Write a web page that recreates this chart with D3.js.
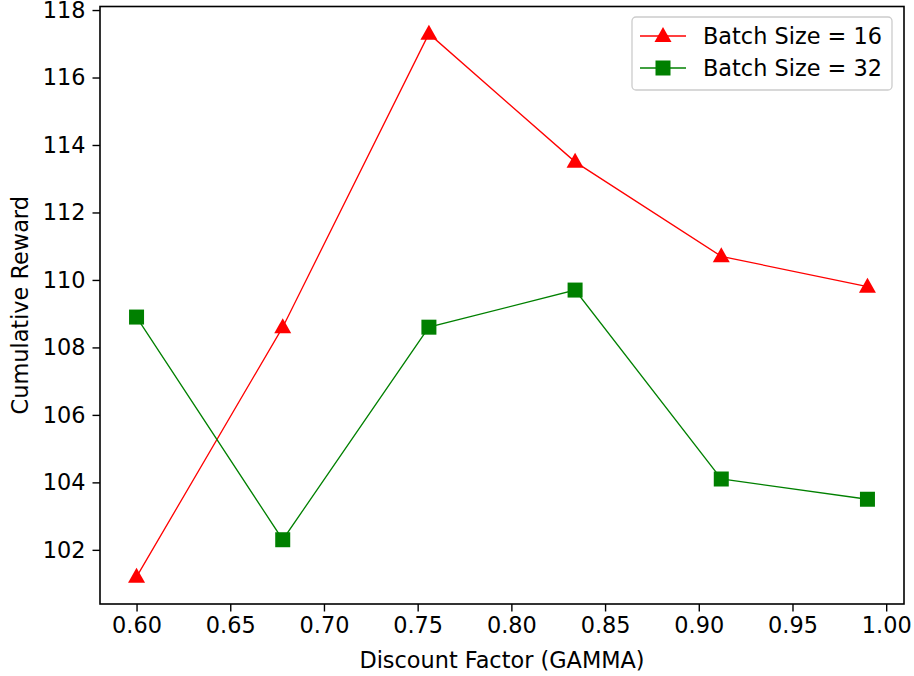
<!DOCTYPE html>
<html>
<head>
<meta charset="utf-8">
<script src="https://cdn.jsdelivr.net/npm/d3@7"></script>
<style>
  html, body { margin: 0; padding: 0; background: #fff; }
  svg { display: block; font-family: "DejaVu Sans", sans-serif; }
</style>
</head>
<body>
<svg id="chart" width="914" height="676"></svg>
<script>
const gammas = [0.6, 0.678, 0.756, 0.834, 0.912, 0.99];
const batch16 = [101.2, 108.6, 117.3, 113.5, 110.7, 109.8];
const batch32 = [108.9, 102.3, 108.6, 109.7, 104.1, 103.5];
const seriesNames = ["Batch Size = 16", "Batch Size = 32"];
const xTicks = [0.60, 0.65, 0.70, 0.75, 0.80, 0.85, 0.90, 0.95, 1.00];
const yTicks = [102, 104, 106, 108, 110, 112, 114, 116, 118];
const xLabel = "Discount Factor (GAMMA)";
const yLabel = "Cumulative Reward";

const svg = d3.select("#chart");
const L = 100, R = 904, T = 6.5, B = 604;
const fs = 22.4;

const x = d3.scaleLinear().domain([0.5805, 1.0095]).range([L, R]);
const y = d3.scaleLinear().domain([100.395, 118.105]).range([B, T]);

// axes
const xAxis = d3.axisBottom(x).tickValues(xTicks).tickFormat(d3.format(".2f")).tickSizeOuter(0).tickSize(7.5).tickPadding(6);
const yAxis = d3.axisLeft(y).tickValues(yTicks).tickFormat(d3.format("d")).tickSizeOuter(0).tickSize(7.5).tickPadding(7);

const gx = svg.append("g").attr("transform", `translate(0,${B})`).call(xAxis);
const gy = svg.append("g").attr("transform", `translate(${L},0)`).call(yAxis);
[gx, gy].forEach(g => {
  g.select(".domain").remove();
  g.selectAll(".tick line").attr("stroke", "#000").attr("stroke-width", 1.4);
  g.selectAll(".tick text").attr("fill", "#000").style("font-size", fs + "px").style("font-family", "DejaVu Sans");
});

// spines
svg.append("rect").attr("x", L).attr("y", T).attr("width", R - L).attr("height", B - T)
  .attr("fill", "none").attr("stroke", "#000").attr("stroke-width", 1.6);

// labels
svg.append("text").attr("x", (L + R) / 2).attr("y", 668).attr("text-anchor", "middle")
  .style("font-size", fs + "px").text(xLabel);
svg.append("text").attr("transform", `translate(28,${(T + B) / 2}) rotate(-90)`).attr("text-anchor", "middle")
  .style("font-size", fs + "px").text(yLabel);

const line = d3.line().x((d, i) => x(gammas[i])).y(d => y(d));
const colors = ["#ff0000", "#008000"];

function drawTri(g, cx, cy, color) {
  const w = 17, h = 15;
  g.append("path").attr("d", `M${cx},${cy - h * 0.6} L${cx + w / 2},${cy + h * 0.4} L${cx - w / 2},${cy + h * 0.4} Z`)
    .attr("fill", color);
}
function drawSq(g, cx, cy, color) {
  const s = 15;
  g.append("rect").attr("x", cx - s / 2).attr("y", cy - s / 2).attr("width", s).attr("height", s).attr("fill", color);
}

const plot = svg.append("g");
plot.append("path").datum(batch16).attr("d", line).attr("fill", "none").attr("stroke", colors[0]).attr("stroke-width", 1.3);
batch16.forEach((v, i) => drawTri(plot, x(gammas[i]), y(v), colors[0]));
plot.append("path").datum(batch32).attr("d", line).attr("fill", "none").attr("stroke", colors[1]).attr("stroke-width", 1.3);
batch32.forEach((v, i) => drawSq(plot, x(gammas[i]), y(v), colors[1]));

// legend
const lg = svg.append("g");
lg.append("rect").attr("x", 632).attr("y", 17).attr("width", 260).attr("height", 73).attr("rx", 4)
  .attr("fill", "#fff").attr("fill-opacity", 0.8).attr("stroke", "#cccccc").attr("stroke-width", 1.3);
const rows = [36, 68];
seriesNames.forEach((name, i) => {
  const cy = rows[i];
  lg.append("line").attr("x1", 640).attr("x2", 686).attr("y1", cy).attr("y2", cy).attr("stroke", colors[i]).attr("stroke-width", 1.3);
  if (i === 0) drawTri(lg, 663, cy, colors[i]); else drawSq(lg, 663, cy, colors[i]);
  lg.append("text").attr("x", 703).attr("y", cy + 8).style("font-size", fs + "px").text(name);
});
</script>
</body>
</html>
